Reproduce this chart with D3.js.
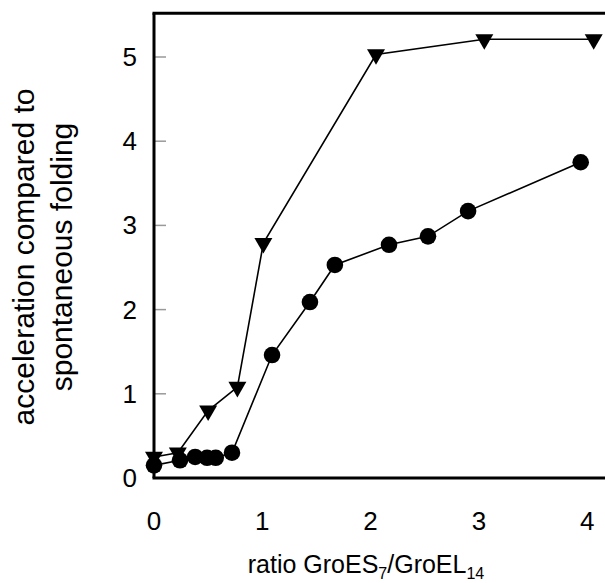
<!DOCTYPE html>
<html>
<head>
<meta charset="utf-8">
<script src="https://cdn.jsdelivr.net/npm/d3@7"></script>
<style>
  html, body { margin:0; padding:0; background:#fff; }
  svg text { font-family: Arial, "Liberation Sans", sans-serif; fill:#000; }
</style>
</head>
<body>
<div id="chart"></div>
<script>
// ====== données
const TRI_X = [0, 0.22, 0.5, 0.77, 1.01, 2.05, 3.05, 4.06];
const TRI_Y = [0.25, 0.3, 0.8, 1.08, 2.79, 5.03, 5.21, 5.21];
const CIR_X = [0, 0.24, 0.38, 0.49, 0.57, 0.72, 1.09, 1.44, 1.67, 2.17, 2.53, 2.9, 3.94];
const CIR_Y = [0.15, 0.21, 0.25, 0.24, 0.24, 0.3, 1.46, 2.09, 2.53, 2.77, 2.87, 3.17, 3.75];
const X_TICKS = [0, 1, 2, 3, 4];
const Y_TICKS = [0, 1, 2, 3, 4, 5];

// ====== dimensions
const W = 605, H = 583;
const X0 = 154, XU = 108.3;   // px de x=0, px par unité
const Y0 = 478, YU = 84.2;

const x = d3.scaleLinear().domain([0, 4.3]).range([X0, X0 + 4.3 * XU]);
const y = d3.scaleLinear().domain([0, 5.52]).range([Y0, Y0 - 5.52 * YU]);

const svg = d3.select("#chart").append("svg")
  .attr("width", W).attr("height", H)
  .attr("viewBox", [0, 0, W, H]);

// ticks y (petits traits gris vers l'intérieur)
svg.append("g").selectAll("line").data(Y_TICKS.filter(d => d > 0)).join("line")
  .attr("x1", X0).attr("x2", X0 + 12)
  .attr("y1", d => y(d)).attr("y2", d => y(d))
  .attr("stroke", "#999").attr("stroke-width", 1.5);

// étiquettes y
svg.append("g").selectAll("text").data(Y_TICKS).join("text")
  .attr("x", 137).attr("y", d => y(d) + 9)
  .attr("text-anchor", "end")
  .attr("font-size", 26)
  .text(d => d);

// étiquettes x
svg.append("g").selectAll("text").data(X_TICKS).join("text")
  .attr("x", d => x(d)).attr("y", 530)
  .attr("text-anchor", "middle")
  .attr("font-size", 26)
  .text(d => d);

// cadre : gauche, bas, haut
const frame = svg.append("g").attr("stroke", "#000").attr("stroke-width", 3).attr("fill", "none");
frame.append("line").attr("x1", x(0)).attr("x2", x(0)).attr("y1", y(5.52)).attr("y2", y(0));
frame.append("line").attr("x1", x(0) - 1.5).attr("x2", W + 5).attr("y1", y(0)).attr("y2", y(0));
frame.append("line").attr("x1", x(0) - 1.5).attr("x2", W + 5).attr("y1", y(5.52)).attr("y2", y(5.52));

// séries
const line = d3.line().x(d => x(d[0])).y(d => y(d[1]));
const tri = TRI_X.map((v, i) => [v, TRI_Y[i]]);
const cir = CIR_X.map((v, i) => [v, CIR_Y[i]]);

svg.append("path").attr("d", line(cir)).attr("fill", "none").attr("stroke", "#000").attr("stroke-width", 1.6);
svg.append("path").attr("d", line(tri)).attr("fill", "none").attr("stroke", "#000").attr("stroke-width", 1.6);

svg.append("g").selectAll("circle").data(cir).join("circle")
  .attr("cx", d => x(d[0])).attr("cy", d => y(d[1])).attr("r", 8.3).attr("fill", "#000");

const triSym = d3.symbol().type(d3.symbolTriangle).size(140);
svg.append("g").selectAll("path").data(tri).join("path")
  .attr("d", triSym)
  .attr("transform", d => `translate(${x(d[0])},${y(d[1])}) rotate(180)`)
  .attr("fill", "#000");

// titre axe y (deux lignes)
const yl = svg.append("text")
  .attr("transform", "translate(0,257) rotate(-90)")
  .attr("text-anchor", "middle")
  .attr("font-size", 30);
yl.append("tspan").attr("x", 0).attr("y", 34).text("acceleration compared to");
yl.append("tspan").attr("x", 0).attr("y", 72).text("spontaneous folding");

// titre axe x avec indices
const xl = svg.append("text")
  .attr("x", 366).attr("y", 573)
  .attr("text-anchor", "middle")
  .attr("font-size", 25);
xl.append("tspan").text("ratio GroES");
xl.append("tspan").attr("font-size", 16).attr("dy", 6).text("7");
xl.append("tspan").attr("dy", -6).text("/GroEL");
xl.append("tspan").attr("font-size", 16).attr("dy", 6).text("14");
</script>
</body>
</html>
